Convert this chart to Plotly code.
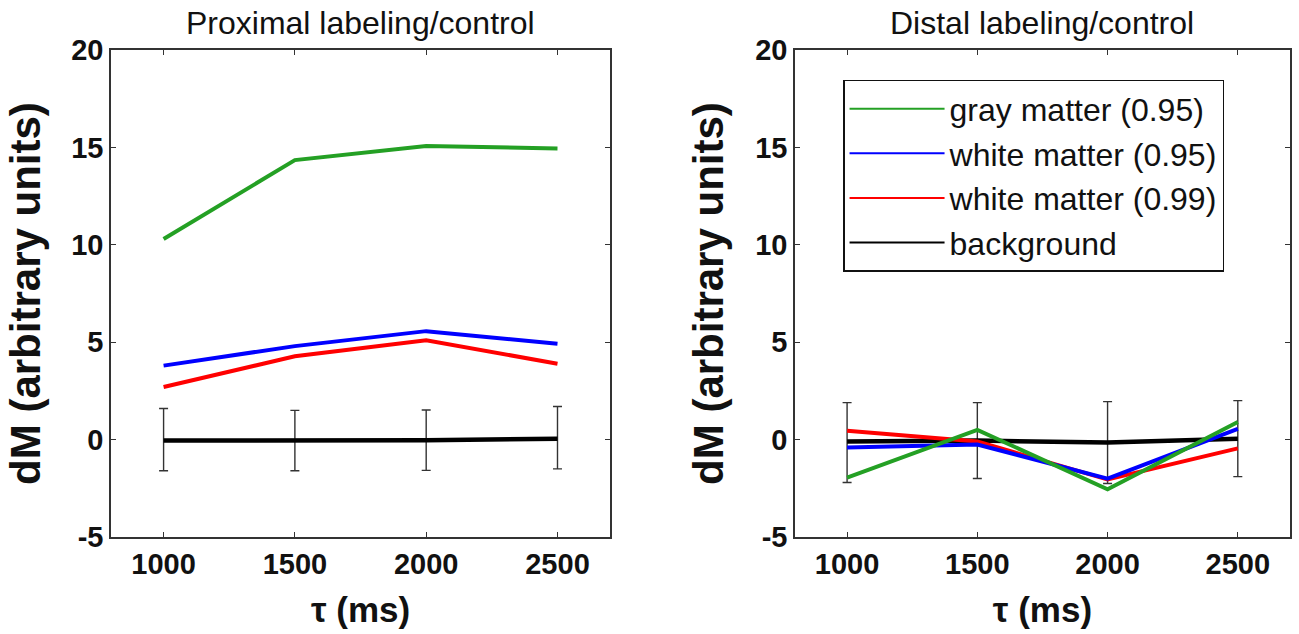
import plotly.graph_objects as go

tau = [1000, 1500, 2000, 2500]

# Proximal labeling/control
prox_gray = [10.3, 14.35, 15.07, 14.95]
prox_white95 = [3.8, 4.8, 5.57, 4.92]
prox_white99 = [2.7, 4.28, 5.1, 3.9]
prox_bg = [-0.05, -0.05, -0.03, 0.05]
prox_bg_err_plus = [1.65, 1.55, 1.55, 1.65]
prox_bg_err_minus = [1.55, 1.55, 1.55, 1.55]

# Distal labeling/control
dist_gray = [-1.95, 0.5, -2.55, 0.9]
dist_white95 = [-0.4, -0.25, -2.0, 0.55]
dist_white99 = [0.45, -0.1, -2.05, -0.45]
dist_bg = [-0.1, -0.05, -0.15, 0.05]
dist_bg_err_plus = [2.0, 1.95, 2.1, 1.95]
dist_bg_err_minus = [2.1, 1.95, 2.1, 1.95]

names = ["gray matter (0.95)", "white matter (0.95)", "white matter (0.99)", "background"]
colors = ["#24a024", "#0000ff", "#ff0000", "#000000"]

titles = ["Proximal labeling/control", "Distal labeling/control"]
x_ticks = [1000, 1500, 2000, 2500]
y_ticks = [-5, 0, 5, 10, 15, 20]
y_ticklabels = ["-5", "0", "5", "10", "15", "20"]

FONT = "Liberation Sans, Arial, sans-serif"

fig = go.Figure()

panels = [
    (prox_gray, prox_white95, prox_white99, prox_bg, prox_bg_err_plus, prox_bg_err_minus, "x", "y"),
    (dist_gray, dist_white95, dist_white99, dist_bg, dist_bg_err_plus, dist_bg_err_minus, "x2", "y2"),
]

for g, w95, w99, bg, ep, em, xa, ya in panels:
    fig.add_trace(go.Scatter(
        x=tau, y=bg, mode="lines", name=names[3], xaxis=xa, yaxis=ya,
        line=dict(color=colors[3], width=4.5),
        error_y=dict(type="data", array=ep, arrayminus=em, symmetric=False,
                     color="#333333", thickness=1.4, width=4.5),
        showlegend=False,
    ))
    for vals, nm, col in [(w99, names[2], colors[2]), (w95, names[1], colors[1]), (g, names[0], colors[0])]:
        fig.add_trace(go.Scatter(
            x=tau, y=vals, mode="lines", name=nm, xaxis=xa, yaxis=ya,
            line=dict(color=col, width=4), showlegend=False,
        ))

# legend entries (thin lines as in the reference), order top to bottom
for nm, col in zip(names, colors):
    fig.add_trace(go.Scatter(
        x=[None], y=[None], mode="lines", name=nm, xaxis="x2", yaxis="y2",
        line=dict(color=col, width=2), showlegend=True,
    ))

ax_common = dict(
    showline=True, linecolor="#333333", linewidth=1.5, mirror="ticks",
    ticks="inside", ticklen=5, tickwidth=1, tickcolor="#333333",
    showgrid=False, zeroline=False, automargin=False,
    tickfont=dict(family=FONT, size=29, color="#111111", weight="bold"),
)

xaxis = dict(ax_common, range=[800, 2700], tickvals=x_ticks,
             title=dict(text="τ (ms)", font=dict(family=FONT, size=35, color="#111111", weight="bold"), standoff=19))
yaxis = dict(ax_common, range=[-5, 20], tickvals=y_ticks, ticktext=y_ticklabels,
             title=dict(text="dM (arbitrary units)", font=dict(family=FONT, size=42, color="#111111", weight="bold"), standoff=18))

fig.update_layout(
    width=1299, height=634,
    margin=dict(l=0, r=0, t=0, b=0),
    paper_bgcolor="white", plot_bgcolor="white",
    xaxis=dict(xaxis, domain=[0.0855, 0.4696], anchor="y"),
    yaxis=dict(yaxis, domain=[0.153, 0.921], anchor="x"),
    xaxis2=dict(xaxis, domain=[0.612, 0.993], anchor="y2"),
    yaxis2=dict(yaxis, domain=[0.153, 0.921], anchor="x2"),
    legend=dict(
        x=0.649, y=0.874, xanchor="left", yanchor="top",
        bordercolor="#111111", borderwidth=1.5, bgcolor="white",
        font=dict(family=FONT, size=32, color="#111111"),
        itemwidth=95,
    ),
    showlegend=True,
)

for i, t in enumerate(titles):
    xd = [0.0855, 0.4696] if i == 0 else [0.612, 0.993]
    fig.add_annotation(
        text=t, xref="paper", yref="paper", x=(xd[0] + xd[1]) / 2, y=0.963,
        xanchor="center", yanchor="middle", showarrow=False,
        font=dict(family=FONT, size=32, color="#111111"),
    )

fig.write_html("out.html")
